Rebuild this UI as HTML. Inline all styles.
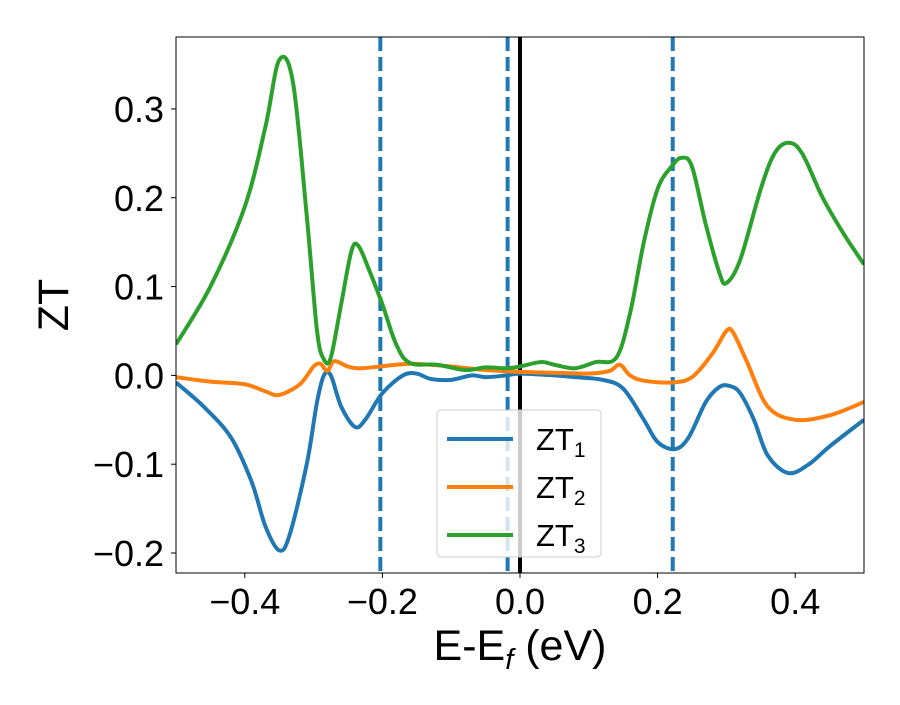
<!DOCTYPE html>
<html><head><meta charset="utf-8"><style>
body{margin:0;background:#fff;}
svg text{font-family:"Liberation Sans","DejaVu Sans",sans-serif;fill:#000;}
</style></head><body>
<svg id="chart" width="900" height="700" viewBox="0 0 900 700">
<rect x="0" y="0" width="900" height="700" fill="#fff"/>
<defs><clipPath id="clip"><rect x="176" y="37" width="688" height="536"/></clipPath></defs>
<g id="grid-lines" clip-path="url(#clip)"></g>
<g id="series" clip-path="url(#clip)"></g>
<rect x="176" y="37" width="688" height="536" fill="none" stroke="#000" stroke-width="1"/>
<g id="xticks"></g><g id="yticks"></g>
<text x="520" y="660" font-size="43" text-anchor="middle">E-E<tspan font-size="29" dy="9" font-style="italic">f</tspan><tspan dy="-9"> (eV)</tspan></text>
<text transform="translate(68,305) rotate(-90)" font-size="43" text-anchor="middle">ZT</text>
<g>
<rect x="437" y="410" width="164" height="147" rx="4" fill="#fff" fill-opacity="0.8" stroke="#ccc"/>
<line x1="447" y1="439" x2="513" y2="439" stroke="#1f77b4" stroke-width="4"/>
<text x="536" y="450" font-size="31">ZT<tspan font-size="21" dy="7">1</tspan></text>
<line x1="447" y1="487" x2="513" y2="487" stroke="#ff7f0e" stroke-width="4"/>
<text x="536" y="498" font-size="31">ZT<tspan font-size="21" dy="7">2</tspan></text>
<line x1="447" y1="535" x2="513" y2="535" stroke="#2ca02c" stroke-width="4"/>
<text x="536" y="546" font-size="31">ZT<tspan font-size="21" dy="7">3</tspan></text>
</g>
</svg>
<script>
const xTicks=[-0.4,-0.2,0.0,0.2,0.4];
const xTickLabels=["\u22120.4","\u22120.2","0.0","0.2","0.4"];
const yTicks=[-0.2,-0.1,0.0,0.1,0.2,0.3];
const yTickLabels=["\u22120.2","\u22120.1","0.0","0.1","0.2","0.3"];
const vLines=[-0.203,-0.018,0.222];
const zt1X=[-0.5,-0.46,-0.42,-0.39,-0.37,-0.35,-0.335,-0.31,-0.295,-0.285,-0.275,-0.26,-0.24,-0.225,-0.2,-0.17,-0.15,-0.13,-0.1,-0.07,-0.05,-0.02,0,0.05,0.08,0.12,0.15,0.18,0.2,0.225,0.245,0.27,0.29,0.305,0.32,0.34,0.36,0.39,0.42,0.45,0.5];
const zt1Y=[-0.008,-0.035,-0.07,-0.12,-0.17,-0.197,-0.18,-0.1,-0.03,0,0,-0.035,-0.058,-0.05,-0.02,0,0.002,-0.004,-0.005,0,-0.002,0,0.002,0,-0.002,-0.005,-0.015,-0.05,-0.075,-0.083,-0.07,-0.03,-0.013,-0.012,-0.02,-0.05,-0.09,-0.11,-0.1,-0.08,-0.05];
const zt2X=[-0.5,-0.45,-0.4,-0.37,-0.35,-0.32,-0.3,-0.29,-0.28,-0.27,-0.25,-0.23,-0.18,-0.15,-0.1,-0.05,0,0.05,0.1,0.13,0.145,0.16,0.18,0.22,0.25,0.28,0.3,0.31,0.33,0.36,0.4,0.45,0.5];
const zt2Y=[-0.002,-0.007,-0.01,-0.018,-0.022,-0.01,0.01,0.013,0.005,0.016,0.01,0.008,0.012,0.013,0.01,0.006,0.004,0.003,0.002,0.005,0.012,0,-0.006,-0.008,-0.002,0.025,0.05,0.048,0.015,-0.035,-0.05,-0.045,-0.03];
const zt3X=[-0.5,-0.45,-0.4,-0.37,-0.35,-0.33,-0.31,-0.295,-0.285,-0.275,-0.26,-0.245,-0.235,-0.22,-0.2,-0.18,-0.16,-0.12,-0.08,-0.05,-0.02,0,0.03,0.05,0.08,0.11,0.14,0.16,0.18,0.2,0.22,0.235,0.25,0.27,0.29,0.3,0.32,0.35,0.37,0.39,0.41,0.44,0.47,0.5];
const zt3Y=[0.035,0.1,0.19,0.28,0.355,0.33,0.18,0.05,0.018,0.02,0.08,0.14,0.146,0.12,0.08,0.035,0.014,0.012,0.006,0.009,0.008,0.01,0.015,0.012,0.008,0.015,0.02,0.07,0.15,0.21,0.235,0.245,0.235,0.17,0.115,0.104,0.13,0.21,0.25,0.262,0.25,0.2,0.16,0.125];

const NS="http://www.w3.org/2000/svg";
const X0=176,X1=864,Y0=573,Y1=37,xmin=-0.5,xmax=0.5,ymin=-0.2225,ymax=0.381;
function sx(v){return X0+(v-xmin)/(xmax-xmin)*(X1-X0);}
function sy(v){return Y0-(v-ymin)/(ymax-ymin)*(Y0-Y1);}
function mk(tag,attrs,parent){const e=document.createElementNS(NS,tag);for(const k in attrs)e.setAttribute(k,attrs[k]);parent.appendChild(e);return e;}
const xg=document.getElementById('xticks'),yg=document.getElementById('yticks');
xTicks.forEach((t,i)=>{
  const l=mk('line',{x1:sx(t),x2:sx(t),y1:Y0,y2:Y0+5,stroke:'#000'},xg);
  
  
  const tx=mk('text',{x:sx(t),y:Y0+41,'font-size':36,'text-anchor':'middle'},xg);
  tx.textContent=xTickLabels[i];
  
  
});
yTicks.forEach((t,i)=>{
  const l=mk('line',{x1:X0-5,x2:X0,y1:sy(t),y2:sy(t),stroke:'#000'},yg);
  
  
  const tx=mk('text',{x:X0-12,y:sy(t)+13,'font-size':36,'text-anchor':'end'},yg);
  tx.textContent=yTickLabels[i];
  
  
});
const gl=document.getElementById('grid-lines');
vLines.forEach(v=>{
  const l=mk('line',{x1:sx(v),x2:sx(v),y1:Y1,y2:Y0,stroke:'#1f77b4','stroke-width':4,'stroke-dasharray':'14,6'},gl);
  
  
});
const zl=mk('line',{x1:sx(0),x2:sx(0),y1:Y1,y2:Y0,stroke:'#000','stroke-width':4},gl);


function smooth(xs,ys){
  const p=xs.map((x,i)=>[sx(x),sy(ys[i])]);
  let d='M'+p[0][0]+','+p[0][1];
  for(let i=0;i<p.length-1;i++){
    const p0=p[i-1]||p[i],p1=p[i],p2=p[i+1],p3=p[i+2]||p2;
    const c1=[p1[0]+(p2[0]-p0[0])/6,p1[1]+(p2[1]-p0[1])/6];
    const c2=[p2[0]-(p3[0]-p1[0])/6,p2[1]-(p3[1]-p1[1])/6];
    d+=' C'+c1[0]+','+c1[1]+' '+c2[0]+','+c2[1]+' '+p2[0]+','+p2[1];
  }
  return d;
}
const sg=document.getElementById('series');
[[zt1X,zt1Y,'#1f77b4','zt1-line'],[zt2X,zt2Y,'#ff7f0e','zt2-line'],[zt3X,zt3Y,'#2ca02c','zt3-line']].forEach(s=>{
  const p=mk('path',{d:smooth(s[0],s[1]),fill:'none',stroke:s[2],'stroke-width':4,'stroke-linejoin':'round'},sg);
  
  
});
</script>
</body></html>
